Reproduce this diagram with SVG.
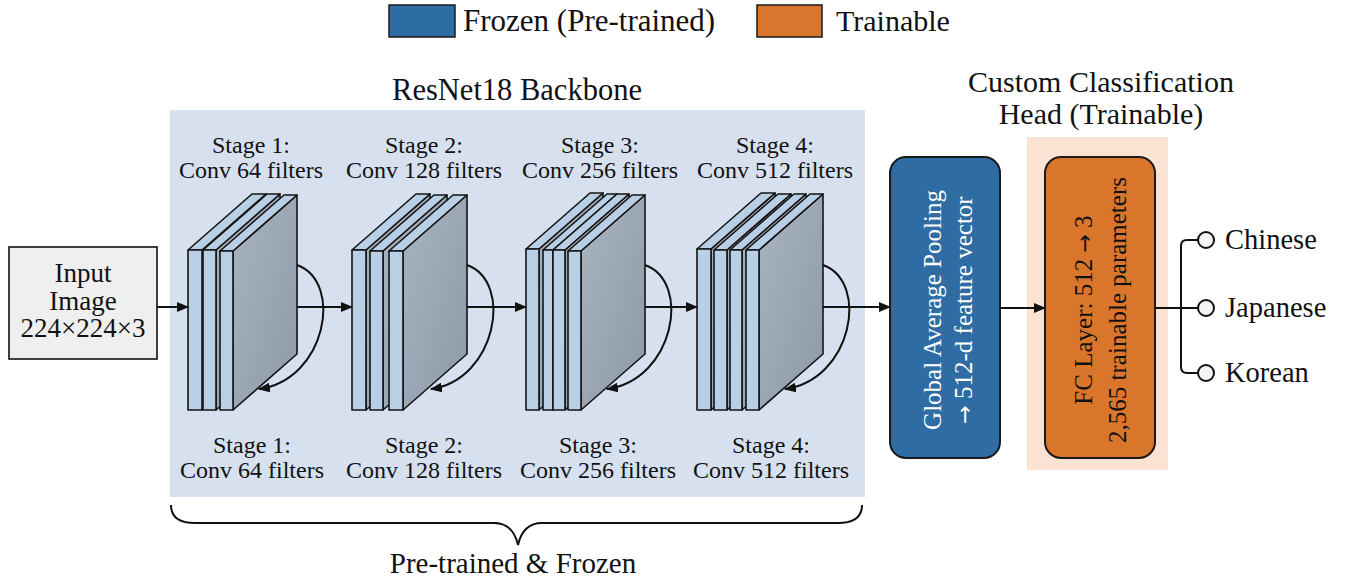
<svg xmlns="http://www.w3.org/2000/svg" width="1354" height="582" viewBox="0 0 1354 582">
  <defs>
    <style>
      .t { font-family: "Liberation Serif", "Times New Roman", serif; fill: #111; }
      .mid { text-anchor: middle; }
      .sym { font-family: "DejaVu Sans", sans-serif; }
      .plate { fill: #b9cfe6; stroke: #141414; stroke-width: 1.6; stroke-linejoin: round; }
      .side { fill: url(#sideShade); stroke: #141414; stroke-width: 1.6; stroke-linejoin: round; }
      .wire { fill: none; stroke: #111; stroke-width: 2; }
      .arrow { fill: none; stroke: #111; stroke-width: 2; marker-end: url(#head); }
      .port { fill: #f4f4f4; stroke: #111; stroke-width: 2; }
    </style>
    <linearGradient id="sideShade" x1="0" y1="0" x2="1" y2="1">
      <stop offset="0" stop-color="#a9b4c1"/>
      <stop offset="1" stop-color="#8d99a7"/>
    </linearGradient>
    <marker id="head" viewBox="0 0 12 10" refX="11" refY="5" markerWidth="12" markerHeight="10" markerUnits="userSpaceOnUse" orient="auto">
      <path d="M0,0 L12,5 L0,10 Z" fill="#111"/>
    </marker>
  </defs>

  <rect width="1354" height="582" fill="#ffffff"/>

  <!-- legend -->
  <g id="legend">
    <rect x="389" y="5" width="66" height="32" fill="#2e6da4" stroke="#1a1a1a" stroke-width="1.5"/>
    <text class="t" x="463" y="31" font-size="31">Frozen (Pre-trained)</text>
    <rect x="757" y="5" width="65" height="32" fill="#d9752d" stroke="#1a1a1a" stroke-width="1.5"/>
    <text class="t" x="836" y="31" font-size="30">Trainable</text>
  </g>

  <!-- backbone panel -->
  <g id="backbone">
    <rect x="170" y="110" width="695" height="387" fill="#d6e0ee"/>
    <text class="t mid" x="517" y="100" font-size="30.5">ResNet18 Backbone</text>
  </g>

  <!-- classification head panel -->
  <g id="head-panel">
    <rect x="1027" y="137" width="141" height="333" fill="#fbe3d4"/>
    <text class="t mid" x="1101" y="92" font-size="30">Custom Classification</text>
    <text class="t mid" x="1101" y="124" font-size="30">Head (Trainable)</text>
  </g>

  <!-- input -->
  <g id="input">
    <rect x="9" y="247" width="148" height="112" fill="#efefef" stroke="#111" stroke-width="1.6"/>
    <text class="t mid" x="83" y="282" font-size="27">Input</text>
    <text class="t mid" x="83" y="310" font-size="27">Image</text>
    <text class="t mid" x="83" y="337" font-size="27">224×224×3</text>
  </g>

  <!-- stage 1: three plates, depth offset (64,-56) -->
  <g id="stage1">
    <polygon class="side" points="202,250 266,194 266,354 202,410"/>
    <polygon class="plate" points="188,250 202,250 266,194 252,194"/>
    <rect class="plate" x="188" y="250" width="14" height="160"/>
    <polygon class="side" points="216,250 280,194 280,354 216,410"/>
    <polygon class="plate" points="203,250 216,250 280,194 267,194"/>
    <rect class="plate" x="203" y="250" width="13" height="160"/>
    <polygon class="side" points="233,251 297,195 297,354 233,410"/>
    <polygon class="plate" points="220,251 233,251 297,195 284,195"/>
    <rect class="plate" x="220" y="251" width="13" height="159"/>
    <text class="t mid" x="251" y="153" font-size="24">Stage 1:</text>
    <text class="t mid" x="251" y="178" font-size="24">Conv 64 filters</text>
    <text class="t mid" x="252" y="453" font-size="24">Stage 1:</text>
    <text class="t mid" x="252" y="478" font-size="24">Conv 64 filters</text>
  </g>

  <!-- stage 2 -->
  <g id="stage2">
    <polygon class="side" points="366,250 430,194 430,354 366,410"/>
    <polygon class="plate" points="352,250 366,250 430,194 416,194"/>
    <rect class="plate" x="352" y="250" width="14" height="160"/>
    <polygon class="side" points="383,251 447,195 447,354 383,410"/>
    <polygon class="plate" points="370,251 383,251 447,195 434,195"/>
    <rect class="plate" x="370" y="251" width="13" height="159"/>
    <polygon class="side" points="403,251 467,195 467,354 403,410"/>
    <polygon class="plate" points="389,251 403,251 467,195 453,195"/>
    <rect class="plate" x="389" y="251" width="14" height="159"/>
    <text class="t mid" x="424" y="153" font-size="24">Stage 2:</text>
    <text class="t mid" x="424" y="178" font-size="24">Conv 128 filters</text>
    <text class="t mid" x="424" y="453" font-size="24">Stage 2:</text>
    <text class="t mid" x="424" y="478" font-size="24">Conv 128 filters</text>
  </g>

  <!-- stage 3 -->
  <g id="stage3">
    <polygon class="side" points="539,249 603,193 603,354 539,410"/>
    <polygon class="plate" points="526,249 539,249 603,193 590,193"/>
    <rect class="plate" x="526" y="249" width="13" height="161"/>
    <polygon class="side" points="553,250 617,194 617,354 553,410"/>
    <polygon class="plate" points="543,250 553,250 617,194 607,194"/>
    <rect class="plate" x="543" y="250" width="10" height="160"/>
    <polygon class="side" points="565,250 629,194 629,354 565,410"/>
    <polygon class="plate" points="553,250 565,250 629,194 617,194"/>
    <rect class="plate" x="553" y="250" width="12" height="160"/>
    <polygon class="side" points="581,251 645,195 645,354 581,410"/>
    <polygon class="plate" points="568,251 581,251 645,195 632,195"/>
    <rect class="plate" x="568" y="251" width="13" height="159"/>
    <text class="t mid" x="600" y="153" font-size="24">Stage 3:</text>
    <text class="t mid" x="600" y="178" font-size="24">Conv 256 filters</text>
    <text class="t mid" x="598" y="453" font-size="24">Stage 3:</text>
    <text class="t mid" x="598" y="478" font-size="24">Conv 256 filters</text>
  </g>

  <!-- stage 4 -->
  <g id="stage4">
    <polygon class="side" points="711,249 775,193 775,354 711,410"/>
    <polygon class="plate" points="697,249 711,249 775,193 761,193"/>
    <rect class="plate" x="697" y="249" width="14" height="161"/>
    <polygon class="side" points="727,250 791,194 791,354 727,410"/>
    <polygon class="plate" points="714,250 727,250 791,194 778,194"/>
    <rect class="plate" x="714" y="250" width="13" height="160"/>
    <polygon class="side" points="742,250 806,194 806,354 742,410"/>
    <polygon class="plate" points="730,250 742,250 806,194 794,194"/>
    <rect class="plate" x="730" y="250" width="12" height="160"/>
    <polygon class="side" points="759,250 823,194 823,354 759,410"/>
    <polygon class="plate" points="746,250 759,250 823,194 810,194"/>
    <rect class="plate" x="746" y="250" width="13" height="160"/>
    <text class="t mid" x="775" y="153" font-size="24">Stage 4:</text>
    <text class="t mid" x="775" y="178" font-size="24">Conv 512 filters</text>
    <text class="t mid" x="771" y="453" font-size="24">Stage 4:</text>
    <text class="t mid" x="771" y="478" font-size="24">Conv 512 filters</text>
  </g>

  <!-- global average pooling -->
  <g id="gap">
    <rect x="890" y="157" width="110" height="301" rx="16" fill="#2e6ca3" stroke="#1a1a1a" stroke-width="2"/>
    <g transform="translate(945,310) rotate(-90)">
      <text class="t mid" x="0" y="-4" font-size="25" style="fill:#ffffff">Global Average Pooling</text>
      <text class="t mid" x="0" y="27" font-size="25" style="fill:#ffffff"><tspan class="sym" font-size="22">→</tspan> 512-d feature vector</text>
    </g>
  </g>

  <!-- fully connected layer -->
  <g id="fc">
    <rect x="1045" y="157" width="110" height="301" rx="16" fill="#d9762b" stroke="#1a1a1a" stroke-width="2"/>
    <g transform="translate(1100,310) rotate(-90)">
      <text class="t mid" x="0" y="-8" font-size="25">FC Layer: 512 <tspan class="sym" font-size="22">→</tspan> 3</text>
      <text class="t mid" x="0" y="26" font-size="25">2,565 trainable parameters</text>
    </g>
  </g>

  <!-- class outputs -->
  <g id="out-chinese">
    <circle class="port" cx="1206" cy="240" r="8"/>
    <text class="t" x="1225" y="249" font-size="28.5">Chinese</text>
  </g>
  <g id="out-japanese">
    <circle class="port" cx="1206" cy="308" r="8"/>
    <text class="t" x="1225" y="317" font-size="28.5">Japanese</text>
  </g>
  <g id="out-korean">
    <circle class="port" cx="1206" cy="373" r="8"/>
    <text class="t" x="1225" y="382" font-size="28.5">Korean</text>
  </g>

  <!-- connectors -->
  <g id="connectors">
    <line class="arrow" x1="157" y1="307" x2="188" y2="307"/>
    <line class="arrow" x1="297" y1="307" x2="352" y2="307"/>
    <line class="arrow" x1="467" y1="307" x2="526" y2="307"/>
    <line class="arrow" x1="645" y1="307" x2="697" y2="307"/>
    <line class="arrow" x1="823" y1="307" x2="890" y2="307"/>
    <line class="arrow" x1="1000" y1="308" x2="1045" y2="308"/>
    <!-- residual skips -->
    <path class="arrow" d="M297,265 C344,282 326,380 259,389"/>
    <path class="arrow" d="M467,265 C514,282 496,380 431,389"/>
    <path class="arrow" d="M645,265 C692,282 674,380 607,389"/>
    <path class="arrow" d="M823,265 C870,282 852,380 785,389"/>
    <!-- output fan-out -->
    <line class="wire" x1="1155" y1="308" x2="1198" y2="308"/>
    <path class="wire" d="M1198,240 L1187,240 Q1181,240 1181,246 L1181,367 Q1181,373 1187,373 L1198,373"/>
    <!-- backbone brace -->
    <path class="wire" d="M171,505 Q171,523 195,523 L494,523 Q513,523 518,545 Q523,523 542,523 L838,523 Q862,523 862,505"/>
  </g>
  <text class="t mid" x="513" y="573" font-size="29">Pre-trained &amp; Frozen</text>
</svg>
